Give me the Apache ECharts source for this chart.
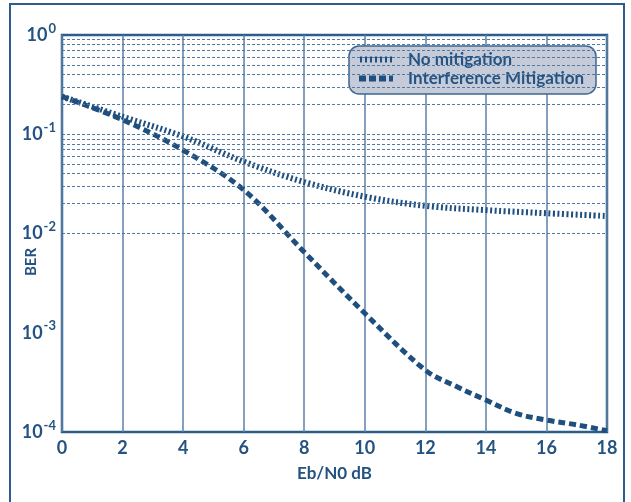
<!DOCTYPE html>
<html>
<head>
<meta charset="utf-8">
<script src="https://cdn.jsdelivr.net/npm/echarts@6/dist/echarts.min.js"></script>
<style>
  html, body { margin: 0; padding: 0; background: #fff; }
  #chart { width: 631px; height: 502px; }
</style>
</head>
<body>
<div id="chart"></div>
<script>
// Data
const EBN0 = [0, 2, 4, 6, 8, 10, 12, 14, 16, 18]
const BER_NO_MITIGATION = [0.24, 0.15, 0.095, 0.053, 0.033, 0.0235, 0.019, 0.0172, 0.016, 0.015]

const EBN0_IM = [0, 2, 4, 6, 8, 10, 12, 13, 14, 15, 16, 17, 18]
const BER_MITIGATION = [0.24, 0.14, 0.069, 0.0275, 0.0065, 0.00157, 0.00042, 0.00029, 0.00021, 0.000154, 0.000132, 0.000118, 0.000103]

// Horizontal dashed grid values: 1..9 x 10^n per decade
const GRID_VALUES = [
  0.0002, 0.0003, 0.0004, 0.0005, 0.0006, 0.0007, 0.0008, 0.0009,
  0.001, 0.002, 0.003, 0.004, 0.005, 0.006, 0.007, 0.008, 0.009,
  0.01, 0.02, 0.03, 0.04, 0.05, 0.06, 0.07, 0.08, 0.09,
  0.1, 0.2, 0.3, 0.4, 0.5, 0.6, 0.7, 0.8, 0.9,
]

const NAMES = ['No mitigation', 'Interference Mitigation']

// Legend glyphs: short ticks for the dotted curve, blocks for the dashed one
const ICON_DOTTED = 'path://M0 0h2v6H0z M5 0h2v6H5z M10 0h2v6h-2z M15 0h2v6h-2z M20 0h2v6h-2z M25 0h2v6h-2z M30 0h2v6h-2z'
const ICON_DASHED = 'path://M0 0h7v6H0z M10 0h7v6h-7z M20 0h7v6h-7z M30 0h4v6h-4z'

// Colors
const COLOR_TEXT = '#245382'
const COLOR_LINE = '#1f4f7e'
const COLOR_FRAME = '#2c5d8c'
const COLOR_VGRID = '#5d81a6'
const COLOR_HGRID = '#5179a2'
const FONT = 'Lato'

const chart = echarts.init(document.getElementById('chart'))

chart.setOption({
  animation: false,
  textStyle: { fontFamily: FONT },
  graphic: [
    {
      type: 'rect',
      shape: { x: 10, y: 4, width: 614, height: 520 },
      style: { fill: 'none', stroke: COLOR_FRAME, lineWidth: 2 },
      silent: true,
    },
    {
      type: 'text',
      x: 31,
      y: 262,
      rotation: Math.PI / 2,
      style: {
        text: 'BER',
        fill: COLOR_TEXT,
        font: 'bold 15px ' + FONT,
        align: 'center',
        verticalAlign: 'middle',
      },
    },
  ],
  grid: {
    left: 62,
    right: 24,
    top: 35,
    bottom: 70,
    show: true,
    borderColor: COLOR_FRAME,
    borderWidth: 2.5,
    backgroundColor: '#fff',
  },
  legend: {
    data: [
      { name: NAMES[0], icon: ICON_DOTTED },
      { name: NAMES[1], icon: ICON_DASHED },
    ],
    orient: 'vertical',
    left: 349,
    top: 46,
    itemWidth: 34,
    itemHeight: 6,
    itemGap: 2,
    padding: [5, 12, 7, 10],
    backgroundColor: '#c6cbda',
    borderColor: '#3d6790',
    borderWidth: 1.5,
    borderRadius: 10,
    textStyle: {
      color: COLOR_TEXT,
      fontWeight: 'bold',
      fontSize: 17,
      fontFamily: FONT,
      padding: [0, 0, 0, 10],
    },
  },
  xAxis: {
    type: 'value',
    min: 0,
    max: 18,
    interval: 2,
    name: 'Eb/N0 dB',
    nameLocation: 'middle',
    nameGap: 33,
    nameTextStyle: { color: COLOR_TEXT, fontWeight: 'bold', fontSize: 17 },
    axisLine: { show: false },
    axisTick: { show: false },
    axisLabel: { color: COLOR_TEXT, fontWeight: 'bold', fontSize: 18, margin: 7 },
    splitLine: { show: true, lineStyle: { color: COLOR_VGRID, width: 1.5 } },
  },
  yAxis: {
    type: 'log',
    logBase: 10,
    min: 0.0001,
    max: 1,
    axisLine: { show: false },
    axisTick: { show: false },
    splitLine: { show: false },
    axisLabel: {
      margin: 6,
      formatter: (v) => '{b|10}{s|' + Math.round(Math.log10(v)) + '}',
      rich: {
        b: { color: COLOR_TEXT, fontWeight: 'bold', fontSize: 18, fontFamily: FONT },
        s: { color: COLOR_TEXT, fontWeight: 'bold', fontSize: 13, fontFamily: FONT, padding: [0, 0, 13, 1] },
      },
    },
  },
  series: [
    {
      name: 'grid',
      type: 'line',
      data: [],
      z: 1,
      markLine: {
        symbol: 'none',
        silent: true,
        label: { show: false },
        lineStyle: { color: COLOR_HGRID, width: 1, type: [3, 2] },
        data: GRID_VALUES.map((v) => ({ yAxis: v })),
      },
    },
    {
      name: NAMES[0],
      type: 'line',
      symbol: 'none',
      smooth: 0.35,
      z: 3,
      lineStyle: { color: COLOR_LINE, width: 6, type: [2, 2.5] },
      itemStyle: { color: COLOR_LINE },
      data: EBN0.map((x, i) => [x, BER_NO_MITIGATION[i]]),
    },
    {
      name: NAMES[1],
      type: 'line',
      symbol: 'none',
      smooth: 0.35,
      z: 3,
      lineStyle: { color: COLOR_LINE, width: 5, type: [7, 4] },
      itemStyle: { color: COLOR_LINE },
      data: EBN0_IM.map((x, i) => [x, BER_MITIGATION[i]]),
    },
  ],
})
</script>
</body>
</html>
